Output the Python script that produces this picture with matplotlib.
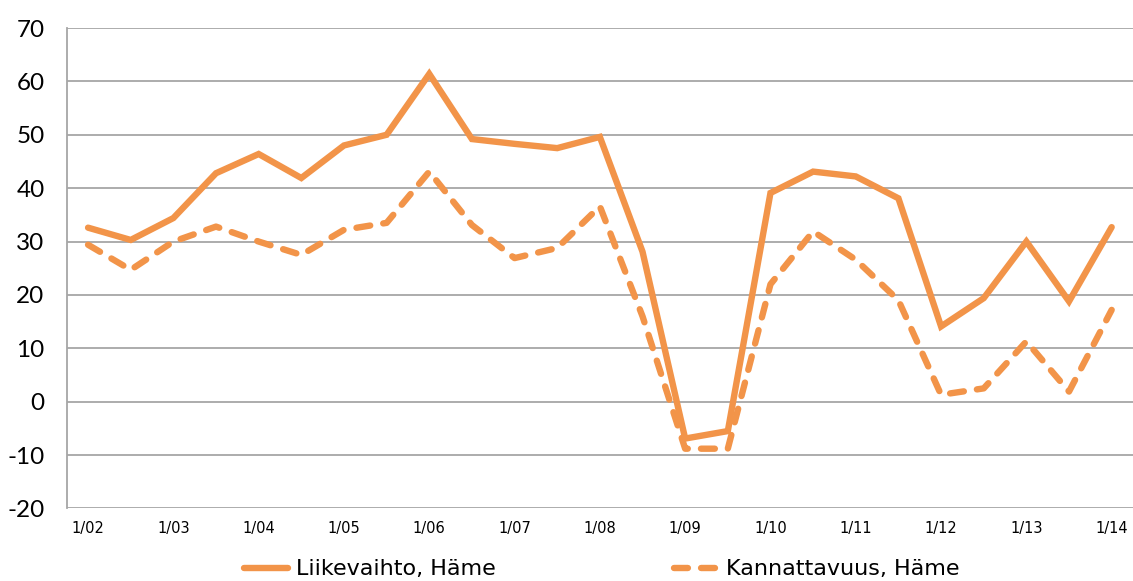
import numpy as np
import matplotlib
matplotlib.use("Agg")
import matplotlib.pyplot as plt

# half-year points 1/02 ... 1/14
periods = ["1/02", "7/02", "1/03", "7/03", "1/04", "7/04", "1/05", "7/05",
           "1/06", "7/06", "1/07", "7/07", "1/08", "7/08", "1/09", "7/09",
           "1/10", "7/10", "1/11", "7/11", "1/12", "7/12", "1/13", "7/13", "1/14"]
liikevaihto = [32.6, 30.3, 34.4, 42.8, 46.4, 41.9, 48.0, 50.0, 61.4, 49.2,
               48.3, 47.5, 49.6, 28.1, -6.9, -5.5, 39.1, 43.1, 42.2, 38.1,
               14.1, 19.4, 30.0, 18.8, 32.7]
kannattavuus = [29.4, 24.7, 30.0, 32.8, 30.0, 27.5, 32.2, 33.5, 43.1, 33.1,
                26.9, 28.8, 36.6, 16.0, -8.8, -8.8, 22.0, 31.9, 26.6, 19.0,
                1.3, 2.5, 11.3, 1.9, 17.2]

color = "#F29449"
grid_c = "#A6A6A6"

plt.rcParams["lines.scale_dashes"] = False
plt.rcParams["axes.unicode_minus"] = False
plt.rcParams["font.family"] = "DejaVu Sans"

fig = plt.figure(figsize=(11.33, 5.81), dpi=100)
ax = fig.add_axes([0.0589, 0.1248, 0.9411, 0.827])

x = np.arange(len(periods))
ax.plot(x, liikevaihto, color=color, lw=4.6, solid_capstyle="round",
        solid_joinstyle="miter", label="Liikevaihto, Häme")
ax.plot(x, kannattavuus, color=color, lw=4.6, dashes=(10, 9.5),
        dash_capstyle="round", dash_joinstyle="round", label="Kannattavuus, Häme")

ax.set_xlim(-0.5, len(periods) - 0.5)
ax.set_ylim(-20, 70)
ax.set_yticks(np.arange(-20, 71, 10))
ax.set_xticks(x[::2])
ax.set_xticklabels(periods[::2])
ax.yaxis.grid(True, color=grid_c, lw=1.3)
ax.set_axisbelow(True)
for s in ["top", "right", "bottom"]:
    ax.spines[s].set_visible(False)
ax.spines["left"].set_color(grid_c)
ax.spines["left"].set_linewidth(1.3)
ax.tick_params(axis="both", length=0)
ax.tick_params(axis="y", pad=16, labelsize=17.5)
ax.tick_params(axis="x", pad=9, labelsize=10.5)
for lab in ax.get_yticklabels():
    lab.set_family("Lato")

fig.legend(loc="center", bbox_to_anchor=(0.531, 0.02), ncol=2, frameon=False,
           fontsize=16, handlelength=2.0, handletextpad=0.35, columnspacing=8.0,
           borderpad=0, borderaxespad=0)

fig.savefig("out.png", dpi=100)
